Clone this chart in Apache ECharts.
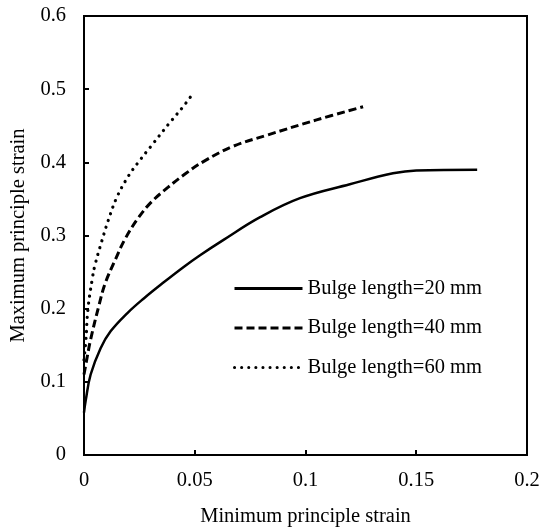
<!DOCTYPE html>
<html>
<head>
<meta charset="utf-8">
<script src="https://cdn.jsdelivr.net/npm/echarts@6/dist/echarts.min.js"></script>
<style>html,body{margin:0;padding:0;background:#fff;}#c{width:545px;height:532px;}</style>
</head>
<body>
<div id="c"></div>
<script>
const seriesNames = ['Bulge length=20 mm', 'Bulge length=40 mm', 'Bulge length=60 mm'];
const xTicks = [0, 0.05, 0.1, 0.15, 0.2];
const yTicks = [0, 0.1, 0.2, 0.3, 0.4, 0.5, 0.6];
const s20 = [[0,0.058],[0.0008,0.075],[0.003,0.110],[0.0075,0.146],[0.012,0.169],[0.0196,0.194],[0.027,0.214],[0.036,0.236],[0.045,0.257],[0.0524,0.273],[0.063,0.294],[0.0795,0.325],[0.0975,0.351],[0.120,0.370],[0.1395,0.385],[0.150,0.389],[0.1775,0.390]];
const s40 = [[0,0.11],[0.0012,0.13],[0.003,0.158],[0.0068,0.205],[0.0095,0.234],[0.014,0.266],[0.0185,0.295],[0.0245,0.324],[0.0305,0.346],[0.038,0.366],[0.0456,0.384],[0.0539,0.401],[0.0674,0.422],[0.0825,0.437],[0.105,0.458],[0.126,0.476]];
const s60 = [[0,0.13],[0.0008,0.155],[0.0018,0.2],[0.0037,0.240],[0.005,0.260],[0.008,0.292],[0.011,0.321],[0.0148,0.352],[0.020,0.381],[0.025,0.402],[0.030,0.421],[0.0384,0.453],[0.045,0.477],[0.0494,0.495]];

const chart = echarts.init(document.getElementById('c'));
const font = 'Liberation Serif, Times New Roman, serif';
const fs = 20.5;
chart.setOption({
  animation: false,
  grid: {left: 84, right: 18, top: 16, bottom: 70, show: true, borderColor: '#000', borderWidth: 2},
  legend: {
    orient: 'vertical', left: 228, top: 273, itemWidth: 68, itemHeight: 14, itemGap: 18.5,
    itemStyle: {opacity: 0},
    lineStyle: {width: 3},
    textStyle: {fontFamily: font, fontSize: fs, color: '#000'},
    data: seriesNames
  },
  xAxis: {
    type: 'value', min: xTicks[0], max: xTicks[xTicks.length-1], interval: 0.05,
    name: 'Minimum principle strain', nameLocation: 'middle', nameGap: 51,
    nameTextStyle: {fontFamily: font, fontSize: fs, color: '#000'},
    axisLine: {show: true, lineStyle: {color: '#000', width: 2}},
    axisTick: {show: true, inside: true, length: 5, lineStyle: {color: '#000', width: 2}},
    axisLabel: {fontFamily: font, fontSize: fs, color: '#000', margin: 15},
    splitLine: {show: false}
  },
  yAxis: {
    type: 'value', min: yTicks[0], max: yTicks[yTicks.length-1], interval: 0.1,
    name: 'Maximum principle strain', nameLocation: 'middle', nameGap: 54,
    nameTextStyle: {fontFamily: font, fontSize: fs, color: '#000'},
    axisLine: {show: true, lineStyle: {color: '#000', width: 2}},
    axisTick: {show: true, inside: true, length: 5, lineStyle: {color: '#000', width: 2}},
    axisLabel: {fontFamily: font, fontSize: fs, color: '#000', margin: 18},
    splitLine: {show: false}
  },
  series: [
    {name: seriesNames[0], type: 'line', data: s20, smooth: 0.4, symbol: 'none', color: '#000',
     lineStyle: {color: '#000', width: 2.5, type: 'solid'}},
    {name: seriesNames[1], type: 'line', data: s40, smooth: 0.4, symbol: 'none', color: '#000',
     lineStyle: {color: '#000', width: 3, type: [8, 4]}},
    {name: seriesNames[2], type: 'line', data: s60, smooth: 0.4, symbol: 'none', color: '#000',
     lineStyle: {color: '#000', width: 3.2, type: [0.1, 7], cap: 'round'}}
  ]
});
</script>
</body>
</html>
